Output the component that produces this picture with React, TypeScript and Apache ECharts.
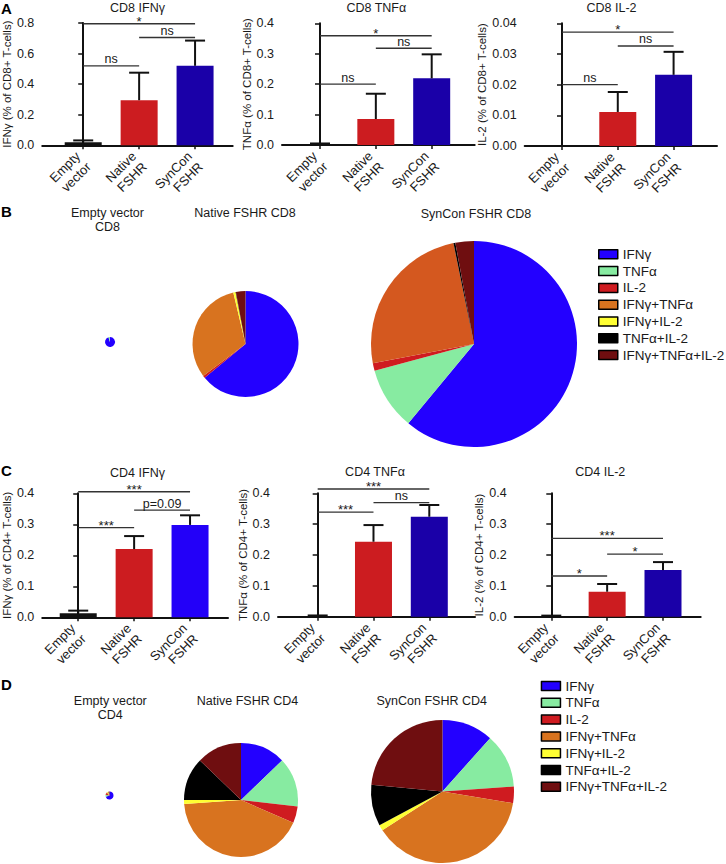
import React, { useEffect, useRef } from "react";
import * as echarts from "echarts";

const FONT = '"Liberation Sans", Arial, Helvetica, sans-serif';
const INK = "#1a1a1a";

// ---------- data ----------
const groupLabels = ["Empty\nvector", "Native\nFSHR", "SynCon\nFSHR"];

// Panel A (CD8): mean and error per group
const cd8IfngMean = [0.02, 0.295, 0.52];
const cd8IfngErr = [0.012, 0.18, 0.165];
const cd8TnfMean = [0.003, 0.0855, 0.219];
const cd8TnfErr = [0.002, 0.083, 0.079];
const cd8Il2Mean = [0, 0.0111, 0.0232];
const cd8Il2Err = [0, 0.0065, 0.0075];

// Panel C (CD4): mean and error per group
const cd4IfngMean = [0.013, 0.22, 0.298];
const cd4IfngErr = [0.0085, 0.042, 0.031];
const cd4TnfMean = [0.002, 0.243, 0.324];
const cd4TnfErr = [0.002, 0.054, 0.038];
const cd4Il2Mean = [0.002, 0.081, 0.151];
const cd4Il2Err = [0.0015, 0.025, 0.026];

// significance brackets: [fromGroup, toGroup, height]
const cd8IfngSig = [[0, 1, 0.52], [1, 2, 0.705], [0, 2, 0.795]];
const cd8IfngSigText = ["ns", "ns", "*"];
const cd8TnfSig = [[0, 1, 0.2], [1, 2, 0.318], [0, 2, 0.359]];
const cd8TnfSigText = ["ns", "ns", "*"];
const cd8Il2Sig = [[0, 1, 0.02], [1, 2, 0.0326], [0, 2, 0.0371]];
const cd8Il2SigText = ["ns", "ns", "*"];
const cd4IfngSig = [[0, 1, 0.289], [1, 2, 0.346], [0, 2, 0.405]];
const cd4IfngSigText = ["***", "p=0.09", "***"];
const cd4TnfSig = [[0, 1, 0.339], [1, 2, 0.37], [0, 2, 0.414]];
const cd4TnfSigText = ["***", "ns", "***"];
const cd4Il2Sig = [[0, 1, 0.132], [1, 2, 0.203], [0, 2, 0.254]];
const cd4Il2SigText = ["*", "*", "***"];

// y-axis ranges
const yMaxA = [0.8, 0.4, 0.04];
const yStepA = [0.2, 0.1, 0.01];
const yMaxC = [0.4, 0.4, 0.4];
const yStepC = [0.1, 0.1, 0.1];

// Pie (B, D): percentage of responding cells by cytokine combination
const cytokines = ["IFNγ", "TNFα", "IL-2", "IFNγ+TNFα", "IFNγ+IL-2", "TNFα+IL-2", "IFNγ+TNFα+IL-2"];
const emptyCd8 = [95, 5, 0, 0, 0, 0, 0];
const nativeCd8 = [64, 0, 0.7, 31.6, 0.7, 0.1, 2.9];
const synconCd8 = [61, 9.8, 1.2, 24.8, 0, 0.3, 2.9];
const emptyCd4 = [70, 8, 8, 4, 5, 0, 5];
const nativeCd4 = [12.8, 14, 4.7, 42.4, 1.1, 12.2, 12.8];
const synconCd4 = [11.6, 12.3, 3.7, 38.3, 1.3, 9.3, 23.5];

// ---------- styles ----------
const pieColors = ["#2300ff", "#87eba1", "#cf1b20", "#d8731f", "#ffff33", "#000000", "#6f0e10"];
const barColorsDark = ["#111111", "#cc1c20", "#1a00a8"];
const barColorsBright = ["#111111", "#cc1c20", "#2300f8"];

type Panel = {
  yName: string; nameGap: number; yMax: number; yStep: number; dec: number;
  mean: number[]; err: number[]; sig: number[][]; sigText: string[]; colors: string[];
  grid: { left: number; top: number; width: number; height: number };
  xMin: number; xMax: number;
};

const panels: Panel[] = [
  { yName: "IFNγ (% of CD8+ T-cells)", nameGap: 23, yMax: yMaxA[0], yStep: yStepA[0], dec: 1,
    mean: cd8IfngMean, err: cd8IfngErr, sig: cd8IfngSig, sigText: cd8IfngSigText, colors: barColorsDark,
    grid: { left: 42, top: 23, width: 190.7, height: 122.3 }, xMin: -0.732, xMax: 2.673 },
  { yName: "TNFα (% of CD8+ T-cells)", nameGap: 25, yMax: yMaxA[1], yStep: yStepA[1], dec: 1,
    mean: cd8TnfMean, err: cd8TnfErr, sig: cd8TnfSig, sigText: cd8TnfSigText, colors: barColorsDark,
    grid: { left: 282, top: 23.3, width: 192.7, height: 121.7 }, xMin: -0.68, xMax: 2.77 },
  { yName: "IL-2 (% of CD8+ T-cells)", nameGap: 34, yMax: yMaxA[2], yStep: yStepA[2], dec: 2,
    mean: cd8Il2Mean, err: cd8Il2Err, sig: cd8Il2Sig, sigText: cd8Il2SigText, colors: barColorsDark,
    grid: { left: 524.7, top: 23.3, width: 192.3, height: 122.7 }, xMin: -0.668, xMax: 2.778 },
  { yName: "IFNγ (% of CD4+ T-cells)", nameGap: 25, yMax: yMaxC[0], yStep: yStepC[0], dec: 1,
    mean: cd4IfngMean, err: cd4IfngErr, sig: cd4IfngSig, sigText: cd4IfngSigText, colors: barColorsBright,
    grid: { left: 42, top: 493.3, width: 186, height: 124 }, xMin: -0.643, xMax: 2.679 },
  { yName: "TNFα (% of CD4+ T-cells)", nameGap: 22, yMax: yMaxC[1], yStep: yStepC[1], dec: 1,
    mean: cd4TnfMean, err: cd4TnfErr, sig: cd4TnfSig, sigText: cd4TnfSigText, colors: barColorsDark,
    grid: { left: 278, top: 493.3, width: 197, height: 123.4 }, xMin: -0.711, xMax: 2.819 },
  { yName: "IL-2 (% of CD4+ T-cells)", nameGap: 25.7, yMax: yMaxC[2], yStep: yStepC[2], dec: 1,
    mean: cd4Il2Mean, err: cd4Il2Err, sig: cd4Il2Sig, sigText: cd4Il2SigText, colors: barColorsDark,
    grid: { left: 514.7, top: 493.3, width: 186, height: 123.4 }, xMin: -0.655, xMax: 2.675 },
];

const pies = [
  { values: emptyCd8, center: [110, 342], r: 5 },
  { values: nativeCd8, center: [245.5, 344], r: 53 },
  { values: synconCd8, center: [474, 344], r: 103, orange: "#d4581f" },
  { values: emptyCd4, center: [109.5, 795.5], r: 4 },
  { values: nativeCd4, center: [241, 800], r: 57 },
  { values: synconCd4, center: [442.5, 791.5], r: 71.5 },
];

const labels = [
  { t: "A", x: 1, y: 1 }, { t: "B", x: 1, y: 203.5 },
  { t: "C", x: 1, y: 463 }, { t: "D", x: 1, y: 676.5 },
];
const titles = [
  { t: "CD8 IFNγ", x: 137.5, y: 7.5, s: 12.5 }, { t: "CD8 TNFα", x: 376.3, y: 8, s: 12.5 },
  { t: "CD8 IL-2", x: 611.5, y: 8, s: 12.5 },
  { t: "Empty vector\nCD8", x: 107.5, y: 220, s: 12.5 }, { t: "Native FSHR CD8", x: 245, y: 213, s: 12.5 },
  { t: "SynCon FSHR CD8", x: 476, y: 214, s: 12.5 },
  { t: "CD4 IFNγ", x: 137.5, y: 472.5, s: 12.5 }, { t: "CD4 TNFα", x: 375, y: 472, s: 12.5 },
  { t: "CD4 IL-2", x: 600.3, y: 472, s: 12.5 },
  { t: "Empty vector\nCD4", x: 110.3, y: 708, s: 12.5 }, { t: "Native FSHR CD4", x: 247.5, y: 701, s: 12.5 },
  { t: "SynCon FSHR CD4", x: 431.7, y: 701, s: 12.5 },
];

function errorRender(params: any, api: any) {
  const x = api.value(0), m = api.value(1), e = api.value(2);
  if (!(e > 0)) return null;
  const p0 = api.coord([x, m]);
  const p1 = api.coord([x, m + e]);
  const hw = 10;
  const st = { stroke: "#111", lineWidth: 2 };
  return {
    type: "group",
    children: [
      { type: "line", shape: { x1: p0[0], y1: p0[1], x2: p1[0], y2: p1[1] }, style: st },
      { type: "line", shape: { x1: p1[0] - hw, y1: p1[1], x2: p1[0] + hw, y2: p1[1] }, style: st },
    ],
  };
}

function makeBracketRender(texts: string[]) {
  return (params: any, api: any) => {
    const y = api.value(2);
    const a = api.coord([api.value(0), y]);
    const b = api.coord([api.value(1), y]);
    const txt = texts[params.dataIndex];
    const star = txt.indexOf("*") >= 0;
    return {
      type: "group",
      children: [
        { type: "line", shape: { x1: a[0], y1: a[1], x2: b[0], y2: b[1] }, style: { stroke: "#333", lineWidth: 1.3 } },
        {
          type: "text", x: (a[0] + b[0]) / 2, y: a[1] + (star ? 4 : 0),
          style: {
            text: txt, fontSize: star ? 13 : 12.5, fontFamily: FONT, fill: INK,
            textAlign: "center", align: "center", textVerticalAlign: "bottom", verticalAlign: "bottom",
          },
        },
      ],
    };
  };
}

function buildOption() {
  const grid: any[] = [];
  const xAxis: any[] = [];
  const yAxis: any[] = [];
  const series: any[] = [];
  const axisLineStyle = { color: "#111", width: 2 };

  panels.forEach((p, i) => {
    grid.push({ ...p.grid, containLabel: false });
    xAxis.push({
      gridIndex: i, type: "value", min: p.xMin, max: p.xMax,
      axisLine: { show: true, onZero: false, lineStyle: axisLineStyle },
      splitLine: { show: false },
      axisTick: { show: true, customValues: [0, 1, 2], length: 4, lineStyle: { color: "#111", width: 1.5 } },
      axisLabel: {
        customValues: [0, 1, 2], rotate: 45, margin: 14, fontSize: 13, fontFamily: FONT, color: INK,
        lineHeight: 15, formatter: (v: number) => groupLabels[Math.round(v)] ?? "",
      },
    });
    yAxis.push({
      gridIndex: i, type: "value", min: 0, max: p.yMax, interval: p.yStep,
      axisLine: { show: true, lineStyle: axisLineStyle },
      axisTick: { show: true, length: 5, lineStyle: { color: "#111", width: 1.5 } },
      splitLine: { show: false },
      axisLabel: { fontSize: 12.5, fontFamily: FONT, color: INK, margin: 8, formatter: (v: number) => v.toFixed(p.dec) },
      name: p.yName, nameLocation: "middle", nameRotate: 90, nameGap: p.nameGap,
      nameTextStyle: { fontSize: 11.5, fontFamily: FONT, color: INK },
    });
    series.push({
      type: "bar", xAxisIndex: i, yAxisIndex: i, barWidth: 37, z: 2,
      data: p.mean.map((m, k) => ({ value: [k, m], itemStyle: { color: p.colors[k] } })),
    });
    series.push({
      type: "custom", xAxisIndex: i, yAxisIndex: i, z: 3, clip: false,
      renderItem: errorRender, encode: { x: 0, y: 1 },
      data: p.mean.map((m, k) => [k, m, p.err[k]]),
    });
    series.push({
      type: "custom", xAxisIndex: i, yAxisIndex: i, z: 3, clip: false,
      renderItem: makeBracketRender(p.sigText), encode: { x: [0, 1], y: 2 },
      data: p.sig.map((s) => [s[0], s[1], s[2]]),
    });
  });

  pies.forEach((pie: any) => {
    series.push({
      type: "pie", center: pie.center, radius: pie.r, startAngle: 90, clockwise: true,
      silent: true, label: { show: false }, labelLine: { show: false },
      itemStyle: { borderWidth: 0 },
      emphasis: { disabled: true },
      data: cytokines.map((name, k) => ({
        name, value: pie.values[k],
        itemStyle: { color: k === 3 && pie.orange ? pie.orange : pieColors[k] },
      })),
    });
  });

  const legendData = cytokines.map((name, k) => ({ name, itemStyle: { color: pieColors[k] } }));
  const legendBase = {
    orient: "vertical", selectedMode: false, itemWidth: 19, itemHeight: 9, itemGap: 2.8,
    icon: "rect", itemStyle: { borderColor: "#000", borderWidth: 1.5 },
    textStyle: { fontSize: 13.5, fontFamily: FONT, color: INK, lineHeight: 14 },
    data: legendData, padding: 0,
  };

  const graphic: any[] = [];
  labels.forEach((l) => graphic.push({
    type: "text", x: l.x, y: l.y,
    style: { text: l.t, fontSize: 15, fontWeight: "bold", fontFamily: FONT, fill: "#000",
      textAlign: "left", align: "left", textVerticalAlign: "top", verticalAlign: "top" },
  }));
  titles.forEach((l) => graphic.push({
    type: "text", x: l.x, y: l.y,
    style: { text: l.t, fontSize: l.s, lineHeight: 14, fontFamily: FONT, fill: INK,
      textAlign: "center", align: "center", textVerticalAlign: "middle", verticalAlign: "middle" },
  }));

  return {
    animation: false,
    backgroundColor: "#ffffff",
    textStyle: { fontFamily: FONT },
    grid, xAxis, yAxis, series, graphic,
    legend: [
      { ...legendBase, left: 598, top: 247.3 },
      { ...legendBase, left: 540.7, top: 679 },
    ],
  };
}

export default function App() {
  const ref = useRef<HTMLDivElement>(null);
  useEffect(() => {
    const chart = echarts.init(ref.current!, undefined, { renderer: "svg" });
    chart.setOption(buildOption() as any);
    return () => chart.dispose();
  }, []);
  return (
    <div
      ref={ref}
      style={{ position: "fixed", left: 0, top: 0, width: 726, height: 864, background: "#fff" }}
    />
  );
}
